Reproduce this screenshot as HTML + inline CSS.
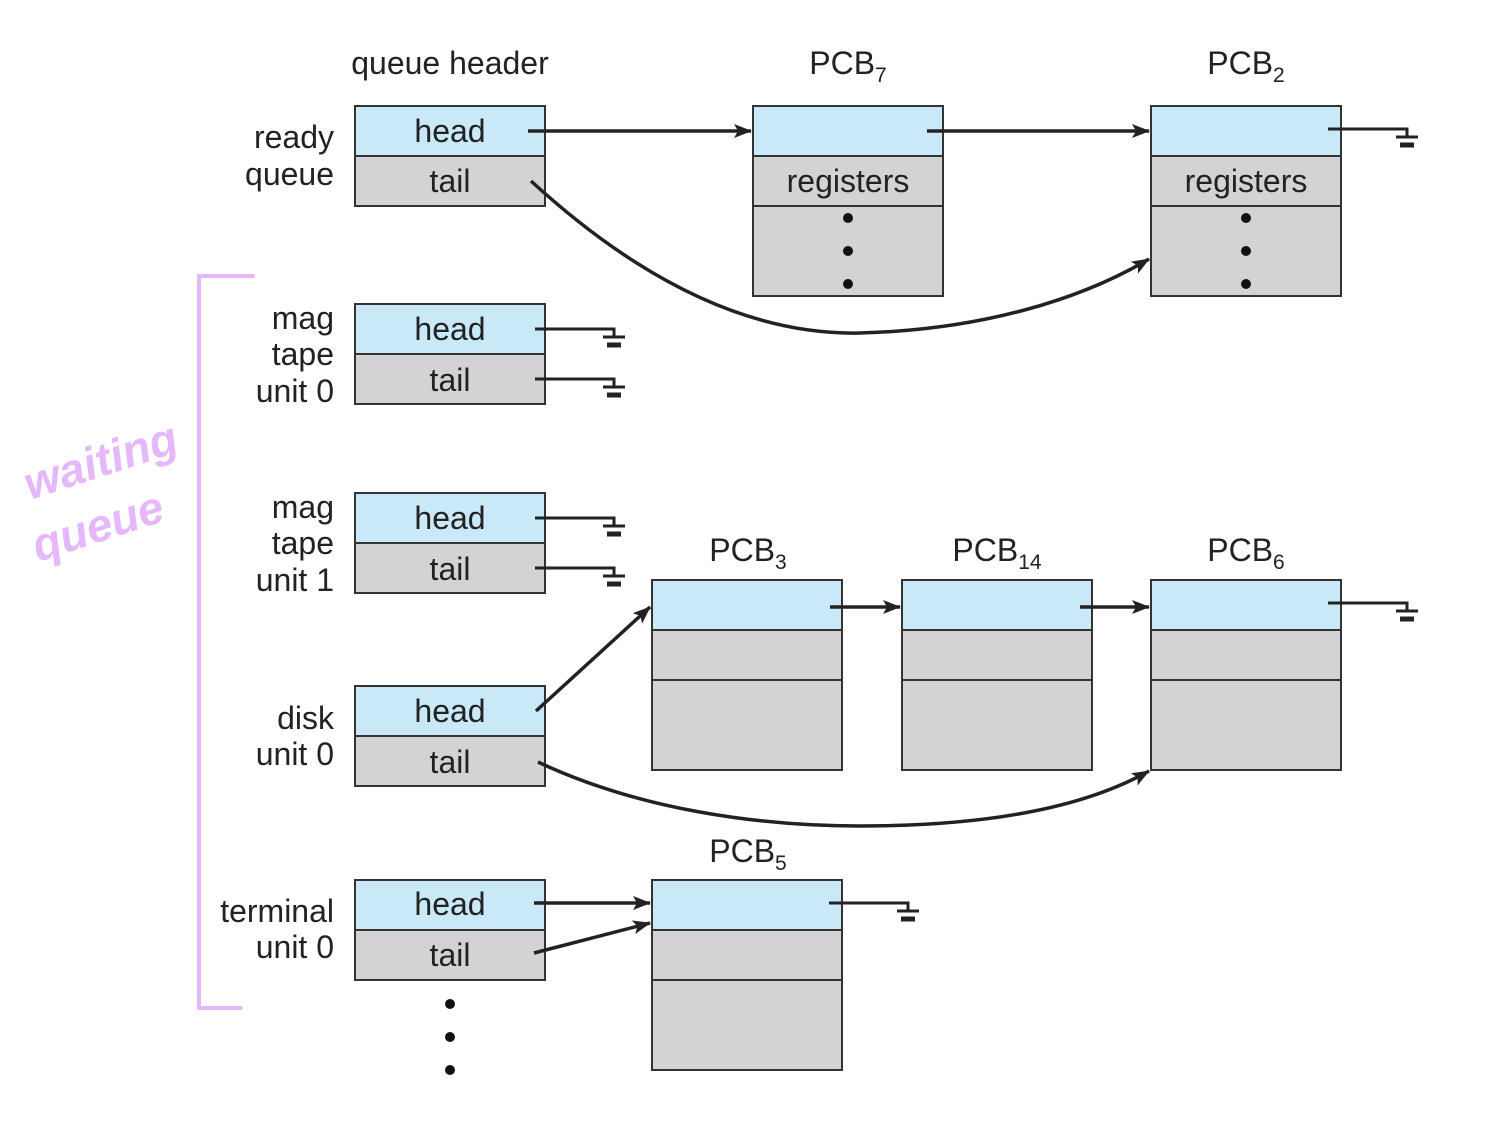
<!DOCTYPE html>
<html><head><meta charset="utf-8"><style>
html,body{margin:0;padding:0;background:#fff;width:1500px;height:1135px;overflow:hidden}
svg{display:block}
text{font-family:"Liberation Sans",sans-serif;fill:#222}
</style></head><body>
<svg width="1500" height="1135" viewBox="0 0 1500 1135" xmlns="http://www.w3.org/2000/svg">
<defs>
<marker id="a" markerWidth="18" markerHeight="14" refX="17" refY="7" orient="auto" markerUnits="userSpaceOnUse">
<path d="M0,0 L18,7 L0,14 L4,7 Z" fill="#222"/></marker>
</defs>
<g stroke="#333" stroke-width="2">
<rect x="355" y="106" width="190" height="50" fill="#c9e8f8"/><rect x="355" y="156" width="190" height="50" fill="#d3d3d5"/>
<rect x="355" y="304" width="190" height="50" fill="#c9e8f8"/><rect x="355" y="354" width="190" height="50" fill="#d3d3d5"/>
<rect x="355" y="493" width="190" height="50" fill="#c9e8f8"/><rect x="355" y="543" width="190" height="50" fill="#d3d3d5"/>
<rect x="355" y="686" width="190" height="50" fill="#c9e8f8"/><rect x="355" y="736" width="190" height="50" fill="#d3d3d5"/>
<rect x="355" y="880" width="190" height="50" fill="#c9e8f8"/><rect x="355" y="930" width="190" height="50" fill="#d3d3d5"/>
<rect x="753" y="106" width="190" height="50" fill="#c9e8f8"/><rect x="753" y="156" width="190" height="50" fill="#d3d3d5"/><rect x="753" y="206" width="190" height="90" fill="#d3d3d5"/>
<rect x="1151" y="106" width="190" height="50" fill="#c9e8f8"/><rect x="1151" y="156" width="190" height="50" fill="#d3d3d5"/><rect x="1151" y="206" width="190" height="90" fill="#d3d3d5"/>
<rect x="652" y="580" width="190" height="50" fill="#c9e8f8"/><rect x="652" y="630" width="190" height="50" fill="#d3d3d5"/><rect x="652" y="680" width="190" height="90" fill="#d3d3d5"/>
<rect x="902" y="580" width="190" height="50" fill="#c9e8f8"/><rect x="902" y="630" width="190" height="50" fill="#d3d3d5"/><rect x="902" y="680" width="190" height="90" fill="#d3d3d5"/>
<rect x="1151" y="580" width="190" height="50" fill="#c9e8f8"/><rect x="1151" y="630" width="190" height="50" fill="#d3d3d5"/><rect x="1151" y="680" width="190" height="90" fill="#d3d3d5"/>
<rect x="652" y="880" width="190" height="50" fill="#c9e8f8"/><rect x="652" y="930" width="190" height="50" fill="#d3d3d5"/><rect x="652" y="980" width="190" height="90" fill="#d3d3d5"/>
</g>
<g fill="#111">
<circle cx="848" cy="218" r="5"/><circle cx="848" cy="251" r="5"/><circle cx="848" cy="284" r="5"/>
<circle cx="1246" cy="218" r="5"/><circle cx="1246" cy="251" r="5"/><circle cx="1246" cy="284" r="5"/>
<circle cx="450" cy="1004" r="5"/><circle cx="450" cy="1037" r="5"/><circle cx="450" cy="1070" r="5"/>
</g>
<g stroke="#222" stroke-width="3.5" fill="none">
<line x1="528" y1="131" x2="751" y2="131" marker-end="url(#a)"/>
<line x1="927" y1="131" x2="1149" y2="131" marker-end="url(#a)"/>
<path d="M531,181 C650,290 760,335 860,333 C980,330 1080,300 1149,259" marker-end="url(#a)"/>
<line x1="536" y1="711" x2="650" y2="607" marker-end="url(#a)"/>
<line x1="830" y1="607" x2="900" y2="607" marker-end="url(#a)"/>
<line x1="1080" y1="607" x2="1149" y2="607" marker-end="url(#a)"/>
<path d="M538,762 C640,810 760,826 860,826 C980,826 1080,810 1149,771" marker-end="url(#a)"/>
<line x1="534" y1="903" x2="650" y2="903" marker-end="url(#a)"/>
<line x1="534" y1="953" x2="650" y2="923" marker-end="url(#a)"/>
</g>
<g stroke="#222" fill="none">
<path d="M1328,129 H1407 V137 M1396,137 H1418" stroke-width="3"/><path d="M1400,145 H1414" stroke-width="5"/>
<path d="M535,329 H614 V337 M603,337 H625" stroke-width="3"/><path d="M607,345 H621" stroke-width="5"/>
<path d="M535,379 H614 V387 M603,387 H625" stroke-width="3"/><path d="M607,395 H621" stroke-width="5"/>
<path d="M535,518 H614 V526 M603,526 H625" stroke-width="3"/><path d="M607,534 H621" stroke-width="5"/>
<path d="M535,568 H614 V576 M603,576 H625" stroke-width="3"/><path d="M607,584 H621" stroke-width="5"/>
<path d="M1328,603 H1407 V611 M1396,611 H1418" stroke-width="3"/><path d="M1400,619 H1414" stroke-width="5"/>
<path d="M829,903 H908 V911 M897,911 H919" stroke-width="3"/><path d="M901,919 H915" stroke-width="5"/>
</g>
<g font-size="32">
<text x="450" y="74" text-anchor="middle">queue header</text>
<text x="848" y="74" text-anchor="middle">PCB<tspan font-size="21" dy="8">7</tspan></text>
<text x="1246" y="74" text-anchor="middle">PCB<tspan font-size="21" dy="8">2</tspan></text>
<text x="748" y="561" text-anchor="middle">PCB<tspan font-size="21" dy="8">3</tspan></text>
<text x="997" y="561" text-anchor="middle">PCB<tspan font-size="21" dy="8">14</tspan></text>
<text x="1246" y="561" text-anchor="middle">PCB<tspan font-size="21" dy="8">6</tspan></text>
<text x="748" y="862" text-anchor="middle">PCB<tspan font-size="21" dy="8">5</tspan></text>
<g text-anchor="middle">
<text x="450" y="142">head</text><text x="450" y="192">tail</text>
<text x="450" y="340">head</text><text x="450" y="391">tail</text>
<text x="450" y="529">head</text><text x="450" y="580">tail</text>
<text x="450" y="722">head</text><text x="450" y="773">tail</text>
<text x="450" y="915">head</text><text x="450" y="966">tail</text>
<text x="848" y="192">registers</text><text x="1246" y="192">registers</text>
</g>
<g text-anchor="end">
<text x="334" y="148">ready</text><text x="334" y="185">queue</text>
<text x="334" y="329">mag</text><text x="334" y="365">tape</text><text x="334" y="402">unit 0</text>
<text x="334" y="518">mag</text><text x="334" y="554">tape</text><text x="334" y="591">unit 1</text>
<text x="334" y="729">disk</text><text x="334" y="765">unit 0</text>
<text x="334" y="922">terminal</text><text x="334" y="958">unit 0</text>
</g>
</g>
<path d="M253,276 H199 V1008 H241" stroke="#e4b8fa" stroke-width="4" fill="none" stroke-linecap="round"/>
<text x="30" y="500" transform="rotate(-18 30 500)" style="fill:#e4b8fa" font-size="46" font-weight="bold" font-style="italic">waiting</text>
<text x="38" y="562" transform="rotate(-18 38 562)" style="fill:#e4b8fa" font-size="46" font-weight="bold" font-style="italic">queue</text>
</svg>
</body></html>
